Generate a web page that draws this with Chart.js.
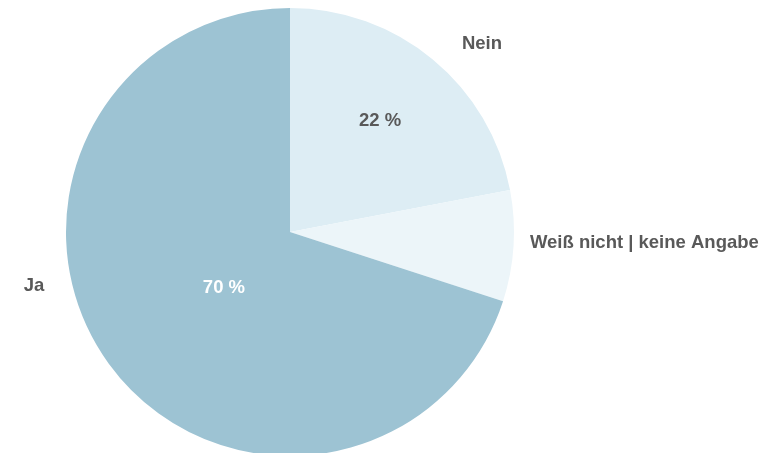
<!DOCTYPE html>
<html>
<head>
<meta charset="utf-8">
<script src="https://cdn.jsdelivr.net/npm/chart.js@4"></script>
<style>
  html, body { margin: 0; padding: 0; background: #fff; }
  #wrap { width: 769px; height: 453px; position: relative; }
</style>
</head>
<body>
<div id="wrap"><canvas id="pie"></canvas></div>
<script>
// data, clockwise from 12 o'clock
const categories = ['Nein', 'Weiß nicht | keine Angabe', 'Ja'];
const shares = [22, 8, 70];
const percentLabels = ['22 %', '', '70 %'];

const sliceColors = ['#ddedf4', '#ecf5f9', '#9dc3d3'];

// label placement relative to pie centre, in units of the radius
const nameSpots = [
  { dx: 0.857, dy: -0.817, align: 'center' },
  { dx: 1.071, dy: 0.071, align: 'left' },
  { dx: -1.143, dy: 0.263, align: 'center' }
];
const pctSpots = [
  { dx: 0.402, dy: -0.473, color: '#595959' },
  null,
  { dx: -0.295, dy: 0.272, color: '#ffffff' }
];

const pieLabels = {
  id: 'pieLabels',
  afterDatasetsDraw(chart) {
    const arc = chart.getDatasetMeta(0).data[0];
    if (!arc) return;
    const { x, y, outerRadius: r } = arc.getProps(['x', 'y', 'outerRadius'], true);
    const c = chart.ctx;
    c.save();
    c.font = 'bold 18.5px "Liberation Sans", Arial, sans-serif';
    c.textBaseline = 'alphabetic';
    categories.forEach((name, i) => {
      const s = nameSpots[i];
      c.fillStyle = '#595959';
      c.textAlign = s.align;
      c.fillText(name, x + s.dx * r, y + s.dy * r);
      const p = pctSpots[i];
      if (p) {
        c.fillStyle = p.color;
        c.textAlign = 'center';
        c.fillText(percentLabels[i], x + p.dx * r, y + p.dy * r);
      }
    });
    c.restore();
  }
};

new Chart(document.getElementById('pie'), {
  type: 'pie',
  data: {
    labels: categories,
    datasets: [{
      data: shares,
      backgroundColor: sliceColors,
      borderWidth: 0,
      hoverOffset: 0,
      clip: false
    }]
  },
  options: {
    responsive: true,
    maintainAspectRatio: false,
    animation: false,
    radius: 224,
    layout: {
      padding: { left: 66, right: 255, top: 11, bottom: 0 }
    },
    plugins: {
      legend: { display: false },
      tooltip: { enabled: false }
    }
  },
  plugins: [pieLabels]
});
</script>
</body>
</html>
